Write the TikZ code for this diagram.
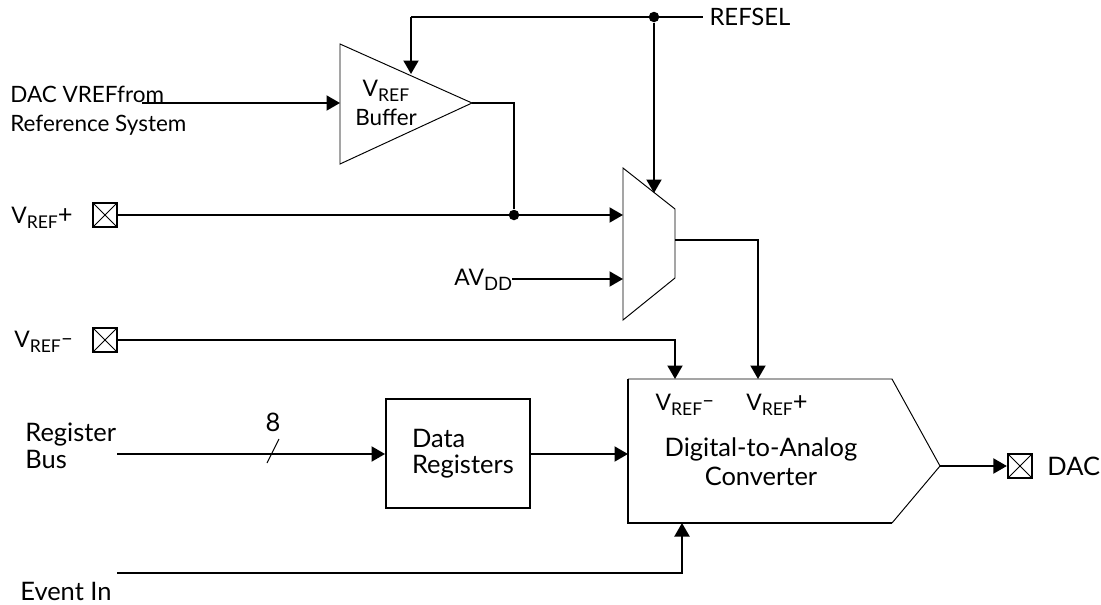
\documentclass[tikz,border=0pt]{standalone}
\usepackage{fontspec}
\setmainfont{Lato}
\usetikzlibrary{arrows.meta,calc,positioning}
\newcommand{\vrefsub}{{\fontsize{13}{15}\selectfont V}\raisebox{-0.4ex}{\fontsize{10}{13}\selectfont REF}}
\newcommand{\vrefminus}{\raisebox{0.2ex}{\fontsize{12}{12}\selectfont –}}
\tikzset{
  every node/.style={font=\fontsize{14.5}{16.5}\selectfont, inner sep=0pt},
  smalltext/.style={font=\fontsize{12.8}{16.5}\selectfont},
  shapeline/.style={draw=black, line width=0.55pt, line join=miter},
  sig/.style={draw=black, line width=1.15pt},
  sigarrow/.style={sig, -{Triangle[length=0.27cm, width=0.3cm]}},
  dot/.style={circle, fill=black, minimum size=0.21cm},
  pad/.style={draw=black, line width=1pt, minimum size=0.49cm,
    path picture={
      \draw[line width=0.5pt] (path picture bounding box.south west) -- (path picture bounding box.north east);
      \draw[line width=0.5pt] (path picture bounding box.north west) -- (path picture bounding box.south east);
    }},
}
\begin{document}
\begin{tikzpicture}
\useasboundingbox (0,0) rectangle (22.02,12.08);

%% Buffer triangle
\coordinate (bufa) at (6.80,11.20);
\coordinate (bufb) at (6.80,8.80);
\coordinate (buftip) at (9.44,10.02);
\coordinate (bufin) at (6.80,10.02);
\coordinate (bufsel) at (8.22,10.60);
\draw[shapeline] (bufa) -- (buftip) -- (bufb) -- cycle;
\node[smalltext, align=center] (buflabel) at (7.72,10.02) {\vrefsub\\Buffer};

%% Mux
\coordinate (muxa) at (12.46,8.72);
\coordinate (muxb) at (13.50,7.90);
\coordinate (muxc) at (13.50,6.52);
\coordinate (muxd) at (12.46,5.68);
\coordinate (muxin) at (12.46,7.78);
\coordinate (muxav) at (12.46,6.50);
\coordinate (muxsel) at (13.08,8.22);
\coordinate (muxout) at (13.50,7.28);
\draw[shapeline] (muxa) -- (muxb) -- (muxc) -- (muxd) -- cycle;

%% Converter
\coordinate (daca) at (12.56,4.50);
\coordinate (dacb) at (17.84,4.50);
\coordinate (dactip) at (18.80,2.76);
\coordinate (dacc) at (17.84,1.62);
\coordinate (dacd) at (12.56,1.62);
\coordinate (dacvm) at (13.50,4.50);
\coordinate (dacvp) at (15.16,4.50);
\coordinate (dacdata) at (12.56,3.00);
\coordinate (dacev) at (13.64,1.62);
\draw[shapeline] (daca) -- (dacb) -- (dactip) -- (dacc);
\draw[sig] (dacc) -- (dacd) -- (daca);
\node (dacvmlabel) at (13.70,3.99) {\vrefsub\vrefminus};
\node (dacvplabel) at (15.54,3.99) {\vrefsub+};
\node[align=center] (daclabel) at (15.22,2.84) {Digital-to-Analog\\Converter};

%% Data registers
\node[draw=black, line width=1.1pt, minimum width=2.88cm, minimum height=2.18cm,
  text width=1.84cm, align=left] (regs) at (9.16,3.01) {Data\\[-1.7pt]Registers};

%% Pads and outer labels
\node[pad] (padp) at (2.10,7.78) {};
\node[pad] (padm) at (2.10,5.28) {};
\node[pad] (paddac) at (20.40,2.76) {};
\node[anchor=west] (vpl) at (0.22,7.72) {\vrefsub+};
\node[anchor=west] (vml) at (0.28,5.24) {\vrefsub\vrefminus};
\node[right=0.28cm of paddac] (daclab) {DAC};
\node[smalltext, anchor=west, align=left] (reflab) at (0.20,9.87) {DAC VREFfrom\\Reference System};
\node[anchor=west] (avl) at (9.08,6.48) {{\fontsize{13}{15}\selectfont AV}\raisebox{-0.4ex}{\fontsize{10.5}{13}\selectfont DD}};
\node[anchor=west, align=left] (buslab) at (0.50,3.16) {Register\\[-1pt]Bus};
\node[anchor=west] (evlab) at (0.40,0.26) {Event In};
\node[anchor=west, inner xsep=3.5pt, font=\fontsize{13.6}{16}\selectfont] (refsel) at (14.06,11.74) {REFSEL};
\node (buswidth) at (5.46,3.64) {8};

%% Free ends of the lines
\coordinate (topl) at (8.22,11.74);
\coordinate (refin) at (2.84,10.02);
\coordinate (avin) at (10.24,6.50);
\coordinate (busin) at (2.34,3.00);
\coordinate (evin) at (2.34,0.62);
\coordinate (slasha) at (5.34,2.82);
\coordinate (slashb) at (5.58,3.30);

%% Junctions
\node[dot] (seldot) at (13.08,11.74) {};
\node[dot] (bufdot) at (10.28,7.78) {};

%% Connectors
\draw[sig] (topl) -- (refsel.west);
\draw[sigarrow] (topl) -- (bufsel);
\draw[sigarrow] (seldot) -- (muxsel);
\draw[sigarrow] (refin) -- (bufin);
\draw[sig] (buftip) -| (bufdot);
\draw[sigarrow] (padp.east) -- (muxin);
\draw[sigarrow] (avin) -- (muxav);
\draw[sigarrow] (muxout) -| (dacvp);
\draw[sigarrow] (padm.east) -| (dacvm);
\draw[sigarrow] (busin) -- (busin -| regs.west);
\draw[line width=0.55pt] (slasha) -- (slashb);
\draw[sigarrow] (regs.east |- dacdata) -- (dacdata);
\draw[sigarrow] (evin) -| (dacev);
\draw[sigarrow] (dactip) -- (paddac.west);

\end{tikzpicture}
\end{document}
